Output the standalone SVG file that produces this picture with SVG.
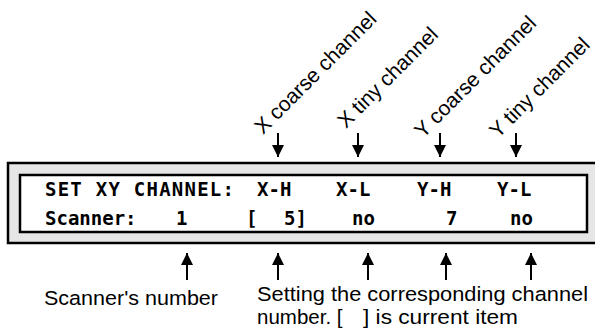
<svg xmlns="http://www.w3.org/2000/svg" width="595" height="329" viewBox="0 0 595 329">
<defs>
<style>
.lcd{font-family:"DejaVu Sans Mono","Liberation Mono",monospace;font-weight:bold;font-size:19px;fill:#000}
.lbl{font-family:"Liberation Sans",Arial,sans-serif;font-size:20.5px;fill:#000}
.rot{font-family:"Liberation Sans",Arial,sans-serif;font-size:21px;fill:#000}
.ln{stroke:#000;stroke-width:2;fill:none}
</style>
<marker id="ah" viewBox="0 0 12 12" refX="12" refY="6" markerWidth="12" markerHeight="12" markerUnits="userSpaceOnUse" orient="auto">
<path d="M0,0 L12,6 L0,12 Z" fill="#000"/>
</marker>
</defs>
<rect width="595" height="329" fill="#fff"/>
<g id="display">
<rect x="8" y="163" width="600" height="80" fill="#e6e6e6" stroke="#000" stroke-width="2.5"/>
<rect x="20" y="175" width="567" height="57" fill="#fff" stroke="#000" stroke-width="2.5"/>
<text class="lcd" x="45" y="196" textLength="189" lengthAdjust="spacing">SET XY CHANNEL:</text>
<text class="lcd" x="257" y="196">X-H</text>
<text class="lcd" x="336" y="196">X-L</text>
<text class="lcd" x="417" y="196">Y-H</text>
<text class="lcd" x="497" y="196">Y-L</text>
<text class="lcd" x="45" y="225">Scanner:</text>
<text class="lcd" x="176" y="225">1</text>
<text class="lcd" x="246" y="225">[</text>
<text class="lcd" x="284" y="225">5]</text>
<text class="lcd" x="352" y="225">no</text>
<text class="lcd" x="446" y="225">7</text>
<text class="lcd" x="510" y="225">no</text>
</g>
<g id="label-x-coarse"><text class="rot" transform="translate(263,135) rotate(-45)">X coarse channel</text></g>
<g id="label-x-tiny"><text class="rot" transform="translate(346,129) rotate(-45)">X tiny channel</text></g>
<g id="label-y-coarse"><text class="rot" transform="translate(423,139) rotate(-45)">Y coarse channel</text></g>
<g id="label-y-tiny"><text class="rot" transform="translate(498,139) rotate(-45)">Y tiny channel</text></g>
<g id="label-scanner"><text class="lbl" x="44" y="305" textLength="174" lengthAdjust="spacingAndGlyphs">Scanner's number</text></g>
<g id="label-setting">
<text class="lbl" x="257" y="301" textLength="331" lengthAdjust="spacingAndGlyphs">Setting the corresponding channel</text>
<text class="lbl" x="257" y="324">number. [</text>
<text class="lbl" x="363" y="324" textLength="155" lengthAdjust="spacingAndGlyphs">] is current item</text>
</g>
<g id="connectors">
<line class="ln" x1="278" y1="133" x2="278" y2="157" marker-end="url(#ah)"/>
<line class="ln" x1="358" y1="133" x2="358" y2="157" marker-end="url(#ah)"/>
<line class="ln" x1="440" y1="133" x2="440" y2="157" marker-end="url(#ah)"/>
<line class="ln" x1="516" y1="133" x2="516" y2="157" marker-end="url(#ah)"/>
<line class="ln" x1="187" y1="280" x2="187" y2="253" marker-end="url(#ah)"/>
<line class="ln" x1="278" y1="280" x2="278" y2="253" marker-end="url(#ah)"/>
<line class="ln" x1="368" y1="280" x2="368" y2="253" marker-end="url(#ah)"/>
<line class="ln" x1="446" y1="280" x2="446" y2="253" marker-end="url(#ah)"/>
<line class="ln" x1="531" y1="280" x2="531" y2="253" marker-end="url(#ah)"/>
</g>
</svg>
